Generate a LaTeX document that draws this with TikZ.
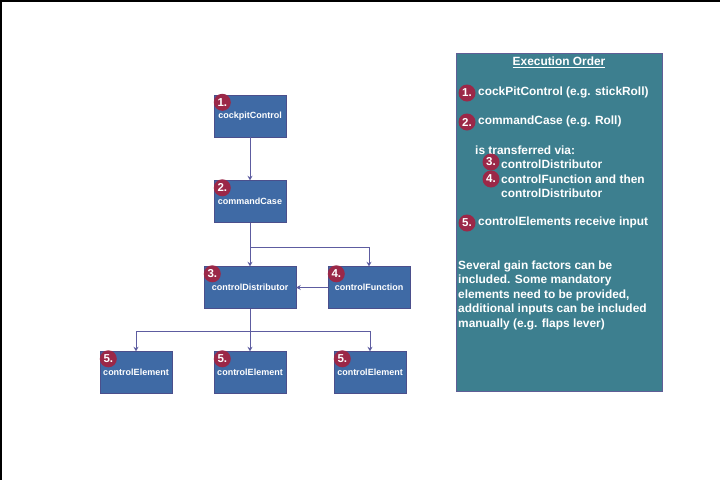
\documentclass[tikz,border=0pt]{standalone}
\usepackage{fontspec}
\setmainfont{Liberation Sans}
\usetikzlibrary{arrows.meta}

\definecolor{boxblue}{HTML}{3F6AA5}
\definecolor{boxedge}{HTML}{4B4F8C}
\definecolor{linkcol}{HTML}{5D5CA0}
\definecolor{badgered}{HTML}{9B2848}
\definecolor{panelteal}{HTML}{3D7F8F}
\definecolor{paneledge}{HTML}{5F5E96}

\begin{document}
\begin{tikzpicture}[x=1pt,y=-1pt,>={Stealth[width=5pt,length=4.5pt]},
      block/.style={draw=boxedge,fill=boxblue,minimum width=72pt,minimum height=42pt,
         inner sep=0pt,text=white,font=\fontsize{9}{10}\bfseries\selectfont},
      badge/.style={circle,fill=badgered,minimum size=17pt,inner sep=0pt,text=white,
         font=\fontsize{11.5}{12}\bfseries\selectfont},
      link/.style={draw=linkcol,line width=0.9pt,->},
      note/.style={anchor=west,inner sep=0pt,text=white,font=\fontsize{11.9}{14.5}\bfseries\selectfont}]
      \useasboundingbox(0,0)rectangle(720,480);
      \draw[line width=3pt](0,480)--(0,0)--(720,0);
      % flow chart
      \node[block](cockpit)at(250,116){cockpitControl};
      \node[block](command)at(250,201.5){commandCase};
      \node[block,minimum width=92pt](distrib)at(250,287.5){controlDistributor};
      \node[block,minimum width=82pt](function)at(369,287.5){controlFunction};
      \node[block](elemA)at(136,372.5){controlElement};
      \node[block](elemB)at(250,372.5){controlElement};
      \node[block](elemC)at(370,372.5){controlElement};
      \coordinate(splitA)at(250,247);
      \coordinate(splitB)at(250,331);
      \draw[link](cockpit)--(command);
      \draw[link](command)--(distrib);
      \draw[link](splitA)-|(function.north);
      \draw[link](function)--(distrib);
      \draw[link](distrib)--(elemB);
      \draw[link](splitB)-|(elemA.north);
      \draw[link](splitB)-|(elemC.north);
      \node[badge]at([xshift=8.5pt,yshift=-7.5pt]cockpit.north west){1.};
      \node[badge]at([xshift=8.5pt,yshift=-7.5pt]command.north west){2.};
      \node[badge]at([xshift=8.5pt,yshift=-7.5pt]distrib.north west){3.};
      \node[badge]at([xshift=8.5pt,yshift=-7.5pt]function.north west){4.};
      \node[badge]at([xshift=8.5pt,yshift=-7.5pt]elemA.north west){5.};
      \node[badge]at([xshift=8.5pt,yshift=-7.5pt]elemB.north west){5.};
      \node[badge]at([xshift=8.5pt,yshift=-7.5pt]elemC.north west){5.};
      % execution order panel
      \node[draw=paneledge,fill=panelteal,minimum width=206pt,minimum height=338pt](panel)at(559,222){};
      \node[note,anchor=center](title)at(559,62){\underline{Execution Order}};
      \node[badge](stepA)at(467,93){1.};
      \node[note](textA)at(478,92){cockPitControl (e.g. stickRoll)};
      \node[badge](stepB)at(467,122){2.};
      \node[note](textB)at(478,121){commandCase (e.g. Roll)};
      \node[note](via)at(475,150){is transferred via:};
      \node[badge](stepC)at(491,162){3.};
      \node[note](textC)at(501,164){controlDistributor};
      \node[badge](stepD)at(491,179){4.};
      \node[note,align=left](textD)at(501,186){controlFunction and then\\controlDistributor};
      \node[badge](stepE)at(467,223){5.};
      \node[note](textE)at(478,222){controlElements receive input};
      \node[note,align=left](remark)at(458,295){Several gain factors can be\\included. Some mandatory\\
         elements need to be provided,\\additional inputs can be included\\manually (e.g. flaps lever)};
\end{tikzpicture}
\end{document}
